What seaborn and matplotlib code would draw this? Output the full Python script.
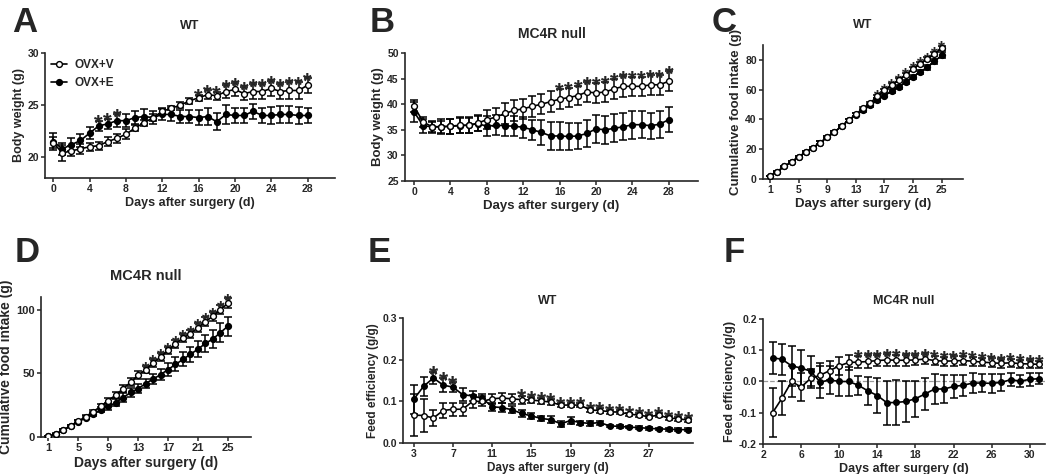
import numpy as np
import pandas as pd
import seaborn as sns
import matplotlib
matplotlib.use("Agg")
import matplotlib.pyplot as plt
from matplotlib.ticker import FormatStrFormatter

# ---------------- data ----------------
# A: WT body weight
days_a = list(range(0, 29))
a_v = [21.4, 20.4, 20.6, 20.8, 21.0, 21.1, 21.5, 21.8, 22.2, 22.8, 23.3, 23.8, 24.4, 24.7, 25.0,
       25.4, 25.7, 26.0, 25.9, 26.3, 26.5, 26.1, 26.3, 26.3, 26.6, 26.3, 26.4, 26.4, 26.9]
a_v_err = [0.5, 0.8, 0.5, 0.5, 0.4, 0.4, 0.4, 0.4, 0.5, 0.3, 0.3, 0.3, 0.3, 0.2, 0.3,
           0.3, 0.3, 0.4, 0.4, 0.6, 0.6, 0.6, 0.7, 0.7, 0.7, 0.7, 0.8, 0.8, 0.7]
a_e = [21.5, 20.8, 21.2, 21.6, 22.3, 23.0, 23.2, 23.5, 23.5, 23.8, 23.9, 23.8, 24.1, 24.1, 23.9,
       23.9, 23.8, 23.9, 23.4, 24.1, 24.0, 24.0, 24.4, 24.0, 24.0, 24.1, 24.1, 24.0, 24.0]
a_e_err = [0.8, 0.6, 0.6, 0.6, 0.6, 0.5, 0.5, 0.6, 0.6, 0.6, 0.7, 0.6, 0.5, 0.6, 0.6,
           0.6, 0.7, 0.8, 0.8, 0.9, 0.7, 0.7, 0.7, 0.7, 0.8, 0.8, 0.8, 0.8, 0.7]
a_sig = [5, 6, 7] + list(range(16, 29))

# B: MC4R null body weight
days_b = list(range(0, 29))
b_v = [39.6, 36.5, 35.6, 35.6, 35.7, 35.9, 35.9, 36.3, 37.0, 37.5, 38.2, 38.8, 39.1, 39.6, 40.0,
       40.5, 41.0, 41.3, 41.7, 42.4, 42.2, 42.4, 43.0, 43.5, 43.5, 43.5, 43.8, 43.8, 44.5]
b_v_err = [1.2, 1.0, 1.2, 1.5, 1.5, 1.6, 1.6, 1.6, 1.8, 1.8, 2.0, 2.0, 2.0, 2.0, 2.0,
           2.0, 2.0, 1.9, 1.9, 1.9, 2.0, 2.0, 2.0, 2.0, 1.9, 1.9, 1.9, 1.9, 1.9]
b_e = [38.5, 35.8, 35.6, 35.6, 35.7, 35.8, 35.9, 36.2, 35.7, 35.9, 35.8, 35.7, 35.5, 35.0, 34.5,
       33.8, 33.8, 33.7, 33.8, 34.3, 35.2, 35.0, 35.3, 35.6, 36.0, 36.0, 35.8, 36.1, 37.0]
b_e_err = [2.0, 1.4, 1.0, 1.2, 1.5, 1.5, 1.5, 1.5, 2.0, 2.0, 2.0, 2.0, 2.0, 2.0, 2.4,
           2.7, 2.7, 2.7, 2.5, 2.6, 2.7, 2.7, 2.7, 2.6, 2.7, 2.6, 2.5, 2.6, 2.5]
b_sig = list(range(16, 29))

# C: WT cumulative food intake
days_c = list(range(1, 26))
c_v = [2, 5, 8.5, 11.5, 15, 18, 21, 24.5, 28, 31.5, 35.5, 39.5, 43.5, 47.5, 51,
       55.5, 59.5, 63, 66.5, 70, 74, 77.5, 80.5, 84, 88]
c_v_err = [0.3, 0.4, 0.5, 0.5, 0.6, 0.6, 0.7, 0.7, 0.8, 0.8, 0.9, 0.9, 1.0, 1.0, 1.0,
           1.1, 1.1, 1.2, 1.2, 1.3, 1.3, 1.4, 1.4, 1.5, 1.5]
c_e = [2, 5, 8.5, 11.5, 15, 18, 21, 24.5, 28, 31.5, 35.5, 39.5, 43, 46, 49.5,
       53, 56, 59, 62, 65, 68.5, 72, 75, 79, 83]
c_e_err = [0.3, 0.4, 0.5, 0.5, 0.6, 0.6, 0.7, 0.7, 0.8, 0.8, 0.9, 0.9, 1.0, 1.0, 1.1,
           1.1, 1.2, 1.2, 1.3, 1.3, 1.4, 1.5, 1.6, 1.8, 2.0]
c_sig = list(range(16, 26))

# D: MC4R null cumulative food intake
days_d = list(range(1, 26))
d_v = [0.5, 2.5, 5.5, 9, 12.5, 16, 20, 24, 28.5, 33, 38, 43, 48.5, 53, 58,
       63, 68, 73, 78, 81, 86, 90.5, 95, 100, 105]
d_v_err = [0.3, 0.4, 0.6, 0.8, 1.0, 1.2, 1.5, 1.8, 2.2, 2.5, 3.0, 3.0, 3.0, 3.0, 3.0,
           3.0, 3.0, 3.0, 3.0, 3.0, 3.5, 3.5, 3.5, 3.5, 4.0]
d_e = [0.5, 2, 5.5, 8.5, 12, 15, 18, 21.5, 24, 27, 31, 35, 38, 42, 45.5,
       49, 53, 57, 61, 65, 69, 73.5, 77, 82, 87]
d_e_err = [0.3, 0.4, 0.6, 0.8, 1.0, 1.2, 1.5, 2.0, 2.5, 3.0, 3.5, 3.5, 3.5, 3.5, 4.0,
           4.5, 5.0, 5.5, 5.5, 6.0, 6.5, 6.5, 7.0, 7.5, 7.5]
d_sig = list(range(14, 26))

# E: WT feed efficiency
days_e = list(range(3, 32))
e_v = [0.067, 0.066, 0.060, 0.078, 0.081, 0.081, 0.100, 0.100, 0.106, 0.108, 0.106, 0.104, 0.103, 0.101, 0.098,
       0.091, 0.091, 0.091, 0.079, 0.078, 0.075, 0.074, 0.069, 0.067, 0.063, 0.067, 0.060, 0.058, 0.055]
e_v_err = [0.050, 0.040, 0.020, 0.017, 0.015, 0.015, 0.015, 0.012, 0.012, 0.012, 0.012, 0.010, 0.008, 0.007, 0.007,
           0.005, 0.005, 0.005, 0.005, 0.005, 0.005, 0.005, 0.004, 0.004, 0.004, 0.004, 0.004, 0.004, 0.004]
e_e = [0.105, 0.136, 0.156, 0.139, 0.134, 0.116, 0.113, 0.107, 0.087, 0.085, 0.080, 0.071, 0.065, 0.059, 0.056,
       0.046, 0.054, 0.049, 0.047, 0.049, 0.041, 0.040, 0.038, 0.037, 0.035, 0.034, 0.033, 0.032, 0.032]
e_e_err = [0.035, 0.022, 0.015, 0.016, 0.012, 0.015, 0.012, 0.010, 0.010, 0.010, 0.008, 0.008, 0.007, 0.005, 0.008,
           0.007, 0.008, 0.005, 0.005, 0.005, 0.003, 0.003, 0.003, 0.003, 0.003, 0.003, 0.003, 0.003, 0.003]
e_sig = [5, 6, 7] + list(range(14, 32))

# F: MC4R null feed efficiency
days_f = list(range(3, 32))
f_v = [-0.100, -0.053, 0.000, -0.018, 0.010, 0.020, 0.035, 0.050, 0.061, 0.062, 0.064, 0.067, 0.069, 0.068, 0.068,
       0.069, 0.072, 0.067, 0.065, 0.066, 0.067, 0.065, 0.062, 0.060, 0.058, 0.060, 0.057, 0.056, 0.055]
f_v_err = [0.078, 0.055, 0.050, 0.045, 0.030, 0.040, 0.030, 0.028, 0.025, 0.020, 0.020, 0.018, 0.018, 0.018, 0.017,
           0.016, 0.015, 0.015, 0.015, 0.015, 0.015, 0.015, 0.014, 0.014, 0.014, 0.013, 0.013, 0.013, 0.012]
f_e = [0.076, 0.071, 0.050, 0.043, 0.033, -0.002, 0.005, 0.000, 0.000, -0.012, -0.030, -0.045, -0.068, -0.067, -0.064,
       -0.055, -0.040, -0.024, -0.024, -0.016, -0.012, -0.005, -0.005, -0.006, -0.003, 0.006, 0.001, 0.007, 0.009]
f_e_err = [0.052, 0.050, 0.065, 0.058, 0.048, 0.050, 0.045, 0.045, 0.045, 0.030, 0.045, 0.055, 0.070, 0.073, 0.065,
           0.058, 0.050, 0.048, 0.045, 0.038, 0.033, 0.032, 0.030, 0.030, 0.028, 0.022, 0.020, 0.020, 0.018]
f_sig = list(range(12, 32))

# ---------------- style ----------------
sns.set_style("ticks")
plt.rcParams['font.family'] = ['Liberation Sans', 'DejaVu Sans']
plt.rcParams['font.weight'] = 'bold'
plt.rcParams['axes.labelweight'] = 'bold'
plt.rcParams['axes.titleweight'] = 'bold'
plt.rcParams['axes.linewidth'] = 1.2
plt.rcParams['xtick.major.width'] = 1.1
plt.rcParams['ytick.major.width'] = 1.1
plt.rcParams['xtick.major.size'] = 3
plt.rcParams['ytick.major.size'] = 3

fig = plt.figure(figsize=(10.5, 4.74), dpi=100)


def draw_panel(ax, days, v, v_err, e, e_err, sig, star_size=16, ms=4.2):
    v = np.array(v); e = np.array(e)
    v_err = np.array(v_err); e_err = np.array(e_err)
    ax.errorbar(days, e, yerr=e_err, fmt='none', ecolor='black', elinewidth=1.1, capsize=3, capthick=1.1, zorder=2)
    ax.errorbar(days, v, yerr=v_err, fmt='none', ecolor='black', elinewidth=1.1, capsize=3, capthick=1.1, zorder=2)
    sns.lineplot(x=days, y=e, ax=ax, color='black', linewidth=1.2, marker='o', markersize=ms,
                 markerfacecolor='black', markeredgecolor='black', markeredgewidth=1, label='OVX+E', zorder=3)
    sns.lineplot(x=days, y=v, ax=ax, color='black', linewidth=1.2, marker='o', markersize=ms,
                 markerfacecolor='white', markeredgecolor='black', markeredgewidth=1, label='OVX+V', zorder=4)
    top = np.maximum(v + v_err, e + e_err)
    # asterisks for significant days, just above the highest error bar
    for d in sig:
        i = days.index(d)
        ax.annotate('*', (d, top[i]), xytext=(0, -0.42 * star_size), textcoords='offset points',
                    ha='center', va='baseline', fontsize=star_size, fontweight='bold')
    sns.despine(ax=ax)
    ax.get_legend().remove()


def finish(ax, title, title_pad, title_size, ylabel, label_size, tick_size=7.5):
    ax.set_title(title, pad=title_pad, fontsize=title_size)
    ax.set_xlabel('Days after surgery (d)', fontsize=label_size, labelpad=2)
    ax.set_ylabel(ylabel, fontsize=label_size, labelpad=2)
    ax.tick_params(labelsize=tick_size, pad=1.5)
    for t in ax.get_xticklabels() + ax.get_yticklabels():
        t.set_fontweight('bold')


# A
ax = fig.add_axes([0.0429, 0.6245, 0.276, 0.2637])
draw_panel(ax, days_a, a_v, a_v_err, a_e, a_e_err, a_sig, star_size=16)
ax.set_xlim(-0.9, 31)
ax.set_ylim(18, 30)
ax.set_xticks(range(0, 29, 4))
ax.set_yticks([20, 25, 30])
finish(ax, 'WT', 17, 9, 'Body weight (g)', 9)
h, l = ax.get_legend_handles_labels()
ax.legend([h[1], h[0]], [l[1], l[0]], loc='upper left', frameon=False, handlelength=1.4,
          borderaxespad=0.1, labelspacing=0.5, handletextpad=0.6,
          prop={'weight': 'bold', 'size': 8.5})

# B
ax = fig.add_axes([0.3857, 0.6181, 0.279, 0.270])
draw_panel(ax, days_b, b_v, b_v_err, b_e, b_e_err, b_sig, star_size=16)
ax.set_xlim(-1, 31.2)
ax.set_ylim(25, 50)
ax.set_xticks(range(0, 29, 4))
ax.set_yticks(range(25, 51, 5))
finish(ax, 'MC4R null', 11, 10, 'Body weight (g)', 9.5)

# C
ax = fig.add_axes([0.7267, 0.6224, 0.1905, 0.2827])
draw_panel(ax, days_c, c_v, c_v_err, c_e, c_e_err, c_sig, star_size=13)
ax.set_xlim(0, 28)
ax.set_ylim(0, 90)
ax.set_xticks(range(1, 26, 4))
ax.set_yticks(range(0, 81, 20))
finish(ax, 'WT', 12, 9, 'Cumulative food intake (g)', 9.5)

# D
ax = fig.add_axes([0.039, 0.078, 0.2, 0.2954])
draw_panel(ax, days_d, d_v, d_v_err, d_e, d_e_err, d_sig, star_size=14)
ax.set_xlim(0, 28.1)
ax.set_ylim(0, 110)
ax.set_xticks(range(1, 26, 4))
ax.set_yticks([0, 50, 100])
finish(ax, 'MC4R null', 12, 10.5, 'Cumulative food intake (g)', 10, tick_size=8)

# E
ax = fig.add_axes([0.3838, 0.0654, 0.2762, 0.2637])
draw_panel(ax, days_e, e_v, e_v_err, e_e, e_e_err, e_sig, star_size=17, ms=4)
ax.set_xlim(1.9, 31.5)
ax.set_ylim(0, 0.3)
ax.set_xticks(range(3, 28, 4))
ax.set_yticks([0.0, 0.1, 0.2, 0.3])
ax.yaxis.set_major_formatter(FormatStrFormatter('%.1f'))
finish(ax, 'WT', 10, 9, 'Feed efficiency (g/g)', 8.5)

# F
ax = fig.add_axes([0.7267, 0.0633, 0.2686, 0.2637])
ax.axhline(0, color='#999999', linewidth=0.9, linestyle='--', zorder=1)
draw_panel(ax, days_f, f_v, f_v_err, f_e, f_e_err, f_sig, star_size=16, ms=4)
ax.set_xlim(2, 31.6)
ax.set_ylim(-0.2, 0.2)
ax.set_xticks(range(2, 31, 4))
ax.set_yticks([-0.2, -0.1, 0.0, 0.1, 0.2])
ax.yaxis.set_major_formatter(FormatStrFormatter('%.1f'))
finish(ax, 'MC4R null', 11, 9, 'Feed efficiency (g/g)', 9)

# panel letters
for letter, x, y in [('A', 12, 32), ('B', 370, 32), ('C', 712, 32),
                     ('D', 15, 262), ('E', 368, 262), ('F', 724, 262)]:
    fig.text(x / 1050, 1 - y / 474, letter, fontsize=25, fontweight='bold',
             ha='left', va='baseline')

fig.savefig('out.png', dpi=100)
